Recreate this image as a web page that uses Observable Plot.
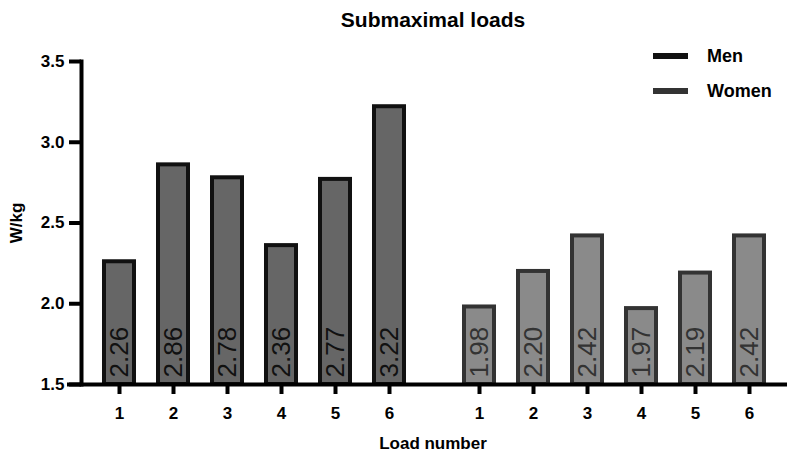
<!DOCTYPE html>
<html>
<head>
<meta charset="utf-8">
<script src="https://cdn.jsdelivr.net/npm/d3@7"></script>
<script src="https://cdn.jsdelivr.net/npm/@observablehq/plot@0.6"></script>
<style>
  html, body { margin: 0; padding: 0; background: #fff; }
  body { width: 792px; height: 457px; position: relative; overflow: hidden;
         font-family: "Liberation Sans", Arial, Helvetica, sans-serif; color: #000; }
  #title { height: 40px; line-height: 40px; padding-left: 74px; text-align: center;
           font-weight: bold; font-size: 21px; }
  #chart svg { display: block; }
  #caption { height: 32px; line-height: 38px; padding-left: 74px; text-align: center;
             font-weight: bold; font-size: 17px; }
  #legend { position: absolute; left: 653px; top: 42px; }
  .item { display: flex; align-items: center; height: 28px; margin-bottom: 7px; }
  .sw { width: 35px; height: 6px; margin-right: 19px; }
  .lab { font-weight: bold; font-size: 18px; }
</style>
</head>
<body>
<div id="title"></div>
<div id="chart"></div>
<div id="caption"></div>
<div id="legend"></div>
<script>
const titleText = "Submaximal loads";
const xLabel = "Load number";
const yLabel = "W/kg";
const groups = ["Men", "Women"];
const loads = ["1", "2", "3", "4", "5", "6"];
const menValues = [2.26, 2.86, 2.78, 2.36, 2.77, 3.22];
const womenValues = [1.98, 2.20, 2.42, 1.97, 2.19, 2.42];
const yDomain = [1.5, 3.5];
const yTicks = [1.5, 2.0, 2.5, 3.0, 3.5];
const fills = {Men: "#666666", Women: "#8a8a8a"};
const strokes = {Men: "#111111", Women: "#333333"};
const legendColors = {Men: "#111111", Women: "#333333"};

document.getElementById("title").textContent = titleText;
document.getElementById("caption").textContent = xLabel;
const legend = document.getElementById("legend");
groups.forEach(g => {
  const it = document.createElement("div"); it.className = "item";
  const sw = document.createElement("div"); sw.className = "sw"; sw.style.background = legendColors[g];
  const lb = document.createElement("div"); lb.className = "lab"; lb.textContent = g;
  it.appendChild(sw); it.appendChild(lb); legend.appendChild(it);
});

const rows = [
  ...menValues.map((v, i) => ({sex: "Men", load: loads[i], value: v})),
  ...womenValues.map((v, i) => ({sex: "Women", load: loads[i], value: v}))
];
const baseRows = groups.map(sex => ({sex, base: yDomain[0]}));

const barMarks = groups.map(g => Plot.barY(rows.filter(d => d.sex === g), {
  fx: "sex", x: "load", y1: yDomain[0], y2: "value",
  fill: fills[g], stroke: strokes[g], strokeWidth: 4
}));
const textMarks = groups.map(g => Plot.text(rows.filter(d => d.sex === g), {
  fx: "sex", x: "load", y: yDomain[0], text: d => d.value.toFixed(2),
  rotate: -90, textAnchor: "start", lineAnchor: "middle", dy: -7,
  fontSize: 26, fill: strokes[g]
}));

const chart = Plot.plot({
  width: 792, height: 385,
  marginTop: 21, marginBottom: 41, marginLeft: 81, marginRight: 5,
  style: {fontFamily: "'Liberation Sans', Arial, Helvetica, sans-serif", background: "white", color: "#000"},
  fx: {domain: groups, paddingInner: 0.0389, paddingOuter: 0, axis: null, label: null},
  x: {domain: loads, paddingInner: 0.444, paddingOuter: 0.4256, label: null},
  y: {domain: yDomain, label: null},
  marks: [
    ...barMarks,
    ...textMarks,
    Plot.ruleY(baseRows, {fx: "sex", y: "base", insetLeft: -14, stroke: "#000", strokeWidth: 4}),
    Plot.frame({anchor: "left", fx: ["Men"], stroke: "#000", strokeWidth: 4}),
    Plot.axisY({ticks: yTicks, tickFormat: d3.format(".1f"), tickSize: 12, tickPadding: 5,
      strokeWidth: 4, fontWeight: "bold", fontSize: 17,
      label: yLabel, labelArrow: "none", labelAnchor: "center", labelOffset: 72}),
    Plot.axisX({tickSize: 10, tickPadding: 12, strokeWidth: 4, fontWeight: "bold", fontSize: 17, label: null})
  ]
});
document.getElementById("chart").appendChild(chart);
</script>
</body>
</html>
